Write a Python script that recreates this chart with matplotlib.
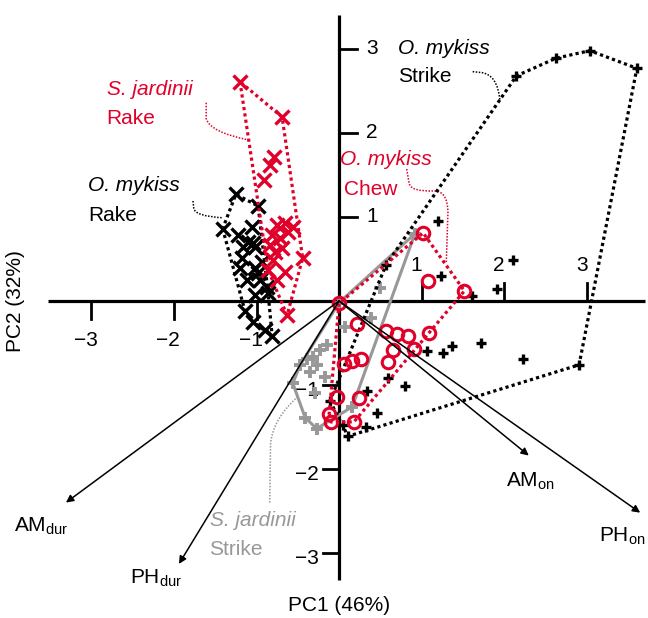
import matplotlib
matplotlib.use("Agg")
import matplotlib.pyplot as plt
from matplotlib.path import Path
from matplotlib.patches import PathPatch

plt.rcParams["font.family"] = ["Liberation Sans", "DejaVu Sans"]
plt.rcParams["mathtext.fontset"] = "custom"
plt.rcParams["mathtext.rm"] = "Liberation Sans"
plt.rcParams["mathtext.it"] = "Liberation Sans:italic"

RED = "#e0002a"
GREY = "#989898"

# PC scores
sj_rake_pc1 = [-1.20, -0.69, -0.79, -0.84, -0.91, -0.75, -0.65, -0.56, -0.81, -0.72,
               -0.62, -0.84, -0.78, -0.69, -0.44, -0.80, -0.65, -0.86, -0.75, -0.63]
sj_rake_pc2 = [2.61, 2.19, 1.71, 1.62, 1.44, 0.90, 0.93, 0.88, 0.79, 0.75,
               0.82, 0.67, 0.58, 0.63, 0.51, 0.49, 0.35, 0.37, 0.25, -0.17]

om_rake_pc1 = [-1.25, -0.98, -1.41, -1.05, -1.22, -1.10, -1.04, -1.16, -1.02, -1.18, -1.20, -1.02,
               -0.93, -0.98, -1.12, -0.96, -0.87, -1.02, -0.86, -1.14, -1.04, -0.90, -0.81]
om_rake_pc2 = [1.27, 1.13, 0.86, 0.88, 0.79, 0.70, 0.69, 0.64, 0.64, 0.51, 0.39, 0.39,
               0.46, 0.33, 0.25, 0.25, 0.17, 0.07, 0.10, -0.12, -0.25, -0.35, -0.42]

om_chew_pc1 = [1.02, 1.08, 1.52, 0.00, 0.22, 0.57, 0.70, 0.84, 1.09, 0.91,
               0.65, 0.59, 0.06, 0.16, 0.27, -0.02, 0.24, -0.12, -0.10, 0.18]
om_chew_pc2 = [0.81, 0.24, 0.12, -0.03, -0.27, -0.36, -0.39, -0.42, -0.38, -0.57,
               -0.58, -0.73, -0.75, -0.71, -0.69, -1.14, -1.15, -1.35, -1.44, -1.44]

om_strike_pc1 = [2.15, 2.63, 3.04, 3.61, 2.91, 2.23, 1.72, 1.37, 1.26, 1.07, 1.61, 1.92,
                 2.11, 1.24, 1.20, 0.57, 0.59, 0.80, 0.34, -0.11, 0.46, 0.33, 0.05, 0.11]
om_strike_pc2 = [2.68, 2.89, 2.98, 2.77, -0.76, -0.69, -0.50, -0.54, -0.62, -0.60, 0.06, 0.14,
                 0.49, 0.30, 0.95, 0.43, -0.92, -1.01, -1.07, -1.19, -1.33, -1.50, -1.48, -1.61]

sj_strike_pc1 = [0.00, 0.92, 0.50, 0.39, 0.07, -0.15, -0.39, -0.32, -0.27,
                 -0.47, -0.17, -0.35, -0.56, -0.29, -0.41, -0.27, 0.16, -0.23]
sj_strike_pc2 = [-0.02, 0.80, 0.15, -0.20, -0.31, -0.52, -0.69, -0.67, -0.76,
                 -0.76, -0.90, -0.85, -0.98, -1.10, -1.39, -1.52, -1.26, -0.58]

# loadings
load_names = [r"AM$_{\mathrm{dur}}$", r"PH$_{\mathrm{dur}}$", r"AM$_{\mathrm{on}}$", r"PH$_{\mathrm{on}}$"]
load_pc1 = [-3.31, -1.94, 2.30, 3.65]
load_pc2 = [-2.40, -3.13, -1.84, -2.52]
load_label_pos = [(-3.94, -2.75), (-2.53, -3.36), (2.02, -2.21), (3.15, -2.87)]

ticks = [-3, -2, -1, 1, 2, 3]


def hull(xs, ys):
    pts = sorted(set(zip(xs, ys)))

    def cross(o, a, b):
        return (a[0] - o[0]) * (b[1] - o[1]) - (a[1] - o[1]) * (b[0] - o[0])

    lower, upper = [], []
    for p in pts:
        while len(lower) >= 2 and cross(lower[-2], lower[-1], p) <= 0:
            lower.pop()
        lower.append(p)
    for p in reversed(pts):
        while len(upper) >= 2 and cross(upper[-2], upper[-1], p) <= 0:
            upper.pop()
        upper.append(p)
    ring = lower[:-1] + upper[:-1]
    ring.append(ring[0])
    return [p[0] for p in ring], [p[1] for p in ring]


def leader(ax, verts, codes, color):
    ax.add_patch(PathPatch(Path(verts, codes), fill=False, edgecolor=color,
                           lw=1.1, linestyle=(0, (1, 1)), zorder=2))


fig = plt.figure(figsize=(6.48, 6.18), dpi=100)
ax = fig.add_axes([0, 0, 1, 1])
ax.set_xlim(-4.109, 3.745)
ax.set_ylim(-3.774, 3.583)
ax.axis("off")

dots = (0, (1, 1))

# axes through the origin
ax.plot([-3.53, 3.71], [0, 0], color="black", lw=2.3, solid_capstyle="butt", zorder=1)
ax.plot([0, 0], [-3.32, 3.40], color="black", lw=2.3, solid_capstyle="butt", zorder=1)
for t in ticks:
    if t > 0:
        ax.plot([t, t], [0, 0.21], color="black", lw=2.0, zorder=1)
        ax.text(t - 0.06, 0.42, str(t), ha="center", va="center", fontsize=15)
        ax.plot([0, 0.22], [t, t], color="black", lw=2.0, zorder=1)
        ax.text(0.33, t, str(t), ha="left", va="center", fontsize=15)
    else:
        ax.plot([t, t], [0, -0.21], color="black", lw=2.0, zorder=1)
        ax.text(t - 0.07, -0.47, "\u2212" + str(-t), ha="center", va="center", fontsize=15)
        ax.plot([0, -0.2], [t, t], color="black", lw=2.0, zorder=1)
        ax.text(-0.25, t - 0.06, "\u2212" + str(-t), ha="right", va="center", fontsize=15)

ax.text(0.0, -3.62, "PC1 (46%)", ha="center", va="center", fontsize=15)
ax.text(-3.92, 0.0, "PC2 (32%)", ha="center", va="center", rotation=90, fontsize=15)

# S. jardinii strike
hx, hy = hull(sj_strike_pc1, sj_strike_pc2)
ax.plot(hx, hy, color=GREY, lw=2.2, zorder=3)
ax.plot(sj_strike_pc1, sj_strike_pc2, ls="none", marker="+", ms=8, mew=2.8, color=GREY, zorder=3)

# O. mykiss strike
hx, hy = hull(om_strike_pc1, om_strike_pc2)
ax.plot(hx, hy, color="black", lw=2.3, ls=dots, zorder=4)
ax.plot(om_strike_pc1, om_strike_pc2, ls="none", marker="+", ms=6.5, mew=2.4, color="black", zorder=4)

# O. mykiss rake
hx, hy = hull(om_rake_pc1, om_rake_pc2)
ax.plot(hx, hy, color="black", lw=2.3, ls=dots, zorder=5)
ax.plot(om_rake_pc1, om_rake_pc2, ls="none", marker="x", ms=10, mew=2.4, color="black", zorder=5)

# S. jardinii rake
hx, hy = hull(sj_rake_pc1, sj_rake_pc2)
ax.plot(hx, hy, color=RED, lw=2.3, ls=dots, zorder=6)
ax.plot(sj_rake_pc1, sj_rake_pc2, ls="none", marker="x", ms=10, mew=2.4, color=RED, zorder=6)

# O. mykiss chew
hx, hy = hull(om_chew_pc1, om_chew_pc2)
ax.plot(hx, hy, color=RED, lw=2.3, ls=dots, zorder=7)
ax.plot(om_chew_pc1, om_chew_pc2, ls="none", marker="o", ms=9, mew=2.2, mfc="none", color=RED, zorder=7)

# loading arrows
for name, x, y, (lx, ly) in zip(load_names, load_pc1, load_pc2, load_label_pos):
    ax.annotate("", xy=(x, y), xytext=(0, 0),
                arrowprops=dict(arrowstyle="-|>", color="black", lw=1.1,
                                mutation_scale=11, shrinkA=0, shrinkB=0), zorder=8)
    ax.text(lx, ly, name, ha="left", va="baseline", fontsize=15)

# group labels with leaders
M, L, C = Path.MOVETO, Path.LINETO, Path.CURVE3
ax.text(0.715, 3.01, "O. mykiss", style="italic", ha="left", va="center", fontsize=15)
ax.text(0.715, 2.67, "Strike", ha="left", va="center", fontsize=15)
leader(ax, [(1.62, 2.73), (1.72, 2.72), (1.92, 2.70), (1.95, 2.39)], [M, L, C, C], "black")

ax.text(-2.81, 2.52, "S. jardinii", style="italic", color=RED, ha="left", va="center", fontsize=15)
ax.text(-2.82, 2.17, "Rake", color=RED, ha="left", va="center", fontsize=15)
leader(ax, [(-1.61, 2.36), (-1.61, 2.17), (-1.56, 2.01), (-1.11, 1.92)], [M, L, C, C], RED)

ax.text(-3.04, 1.37, "O. mykiss", style="italic", ha="left", va="center", fontsize=15)
ax.text(-3.04, 1.02, "Rake", ha="left", va="center", fontsize=15)
leader(ax, [(-1.77, 1.19), (-1.76, 1.10), (-1.74, 1.01), (-1.41, 0.99)], [M, L, C, C], "black")

ax.text(0.01, 1.69, "O. mykiss", style="italic", color=RED, ha="left", va="center", fontsize=15)
ax.text(0.06, 1.33, "Chew", color=RED, ha="left", va="center", fontsize=15)
leader(ax, [(0.82, 1.57), (0.85, 1.40), (0.87, 1.30), (1.15, 1.31), (1.32, 1.31), (1.32, 1.05), (1.30, 0.45)],
       [M, L, C, C, C, C, L], RED)

ax.text(-1.56, -2.61, "S. jardinii", style="italic", color=GREY, ha="left", va="center", fontsize=15)
ax.text(-1.58, -2.96, "Strike", color=GREY, ha="left", va="center", fontsize=15)
leader(ax, [(-0.84, -2.40), (-0.83, -1.70), (-0.80, -1.40), (-0.50, -1.14)], [M, L, C, C], GREY)

fig.savefig("out.png", dpi=100)
